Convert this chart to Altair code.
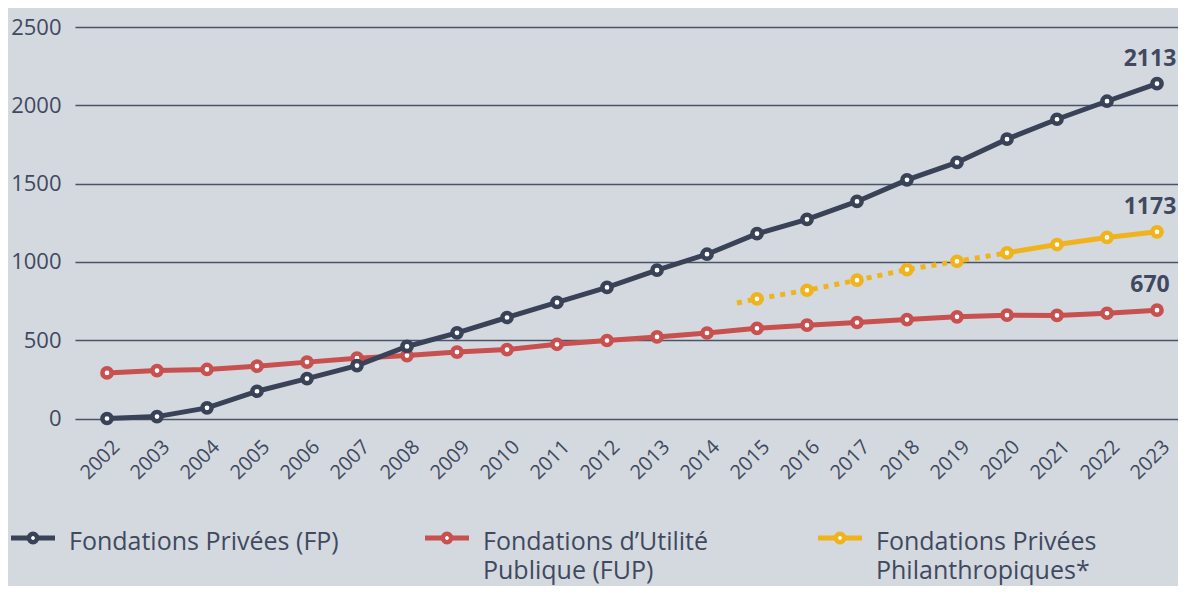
import altair as alt
import pandas as pd

# ---- data ----
years = list(range(2002, 2024))
fp_values = [0, 12, 68, 174, 255, 338, 460, 547, 645, 741, 837, 947, 1049,
             1180, 1271, 1386, 1524, 1635, 1784, 1911, 2026, 2138]
fup_values = [291, 306, 313, 334, 360, 385, 402, 424, 440, 474, 498, 521, 546,
              576, 596, 613, 632, 649, 660, 658, 672, 692]
fpp_years = list(range(2015, 2024))
fpp_values = [764, 819, 883, 951, 1004, 1058, 1111, 1156, 1192]
fpp_est_years = [2014.6, 2015, 2016, 2017, 2018, 2019, 2020]
fpp_est_values = [738, 764, 819, 883, 951, 1004, 1058]
fpp_solid_years = [2020, 2021, 2022, 2023]
fpp_solid_values = [1058, 1111, 1156, 1192]

series_names = ["Fondations Privées (FP)", "Fondations d’Utilité\nPublique (FUP)",
                "Fondations Privées\nPhilanthropiques*"]
end_labels = ["2113", "670", "1173"]
end_values = [fp_values[-1], fup_values[-1], fpp_values[-1]]

DARK = "#3a4258"
RED = "#c8504f"
YELLOW = "#f0b31b"
TEXT = "#414960"
BG = "#d3d9df"
GRID = "#4b5367"
FONT = "Open Sans"

fp_df = pd.DataFrame({"year": years, "value": fp_values})
fup_df = pd.DataFrame({"year": years, "value": fup_values})
fpp_df = pd.DataFrame({"year": fpp_years, "value": fpp_values})
fpp_est_df = pd.DataFrame({"year": fpp_est_years, "value": fpp_est_values})
fpp_solid_df = pd.DataFrame({"year": fpp_solid_years, "value": fpp_solid_values})
end_df = pd.DataFrame({"year": [2023] * 3, "value": end_values, "label": end_labels})

x_scale = alt.Scale(domain=[2001.36, 2023.42], nice=False, zero=False)
y_scale = alt.Scale(domain=[0, 2500], nice=False)

x_enc = alt.X("year:Q", scale=x_scale, axis=alt.Axis(
    values=years, format="d", labelAngle=-45, grid=False, domain=False, ticks=False,
    labelFont=FONT, labelFontSize=20, labelColor=TEXT, labelAlign="right",
    labelBaseline="middle", labelPadding=25, labelOffset=9, title=None,
    labelOverlap=False, labelFlush=False))
y_enc = alt.Y("value:Q", scale=y_scale, axis=alt.Axis(
    values=[0, 500, 1000, 1500, 2000, 2500], format="d", grid=True, gridColor=GRID,
    gridWidth=1.5, gridOpacity=1, domain=False, ticks=False, labelFont=FONT,
    labelFontSize=22, labelColor=TEXT, labelPadding=14, title=None))


def line(df, color, dash=None):
    kwargs = dict(color=color, strokeWidth=5, strokeCap="butt")
    if dash:
        kwargs["strokeDash"] = dash
    return alt.Chart(df).mark_line(**kwargs).encode(x=x_enc, y=y_enc)


def pts(df, color):
    return alt.Chart(df).mark_point(shape="circle", filled=True, fill="white", stroke=color,
                                    strokeWidth=4.5, size=85, opacity=1).encode(
        x=alt.X("year:Q", scale=x_scale), y=alt.Y("value:Q", scale=y_scale))


layers = [
    line(fpp_est_df, YELLOW, dash=[5, 6]),
    line(fpp_solid_df, YELLOW),
    pts(fpp_df, YELLOW),
    line(fup_df, RED),
    pts(fup_df, RED),
    line(fp_df, DARK),
    pts(fp_df, DARK),
    alt.Chart(end_df).mark_text(font=FONT, fontSize=23, fontWeight="bold", color=TEXT,
                                dy=-25, dx=-7, align="center", baseline="middle").encode(
        x=alt.X("year:Q", scale=x_scale), y=alt.Y("value:Q", scale=y_scale),
        text="label:N"),
]

# ---- manual legend below the x axis ----
legend_colors = [DARK, RED, YELLOW]
legend_x = [-64, 350, 743]  # left end of each legend symbol, relative to plot origin
LEG_Y = 511
for name, col, x0 in zip(series_names, legend_colors, legend_x):
    one = pd.DataFrame({"name": [name]})
    layers.append(alt.Chart(one).mark_rule(color=col, strokeWidth=5).encode(
        x=alt.value(x0), x2=alt.value(x0 + 44), y=alt.value(LEG_Y)))
    layers.append(alt.Chart(one).mark_point(shape="circle", filled=True, fill="white",
                                           stroke=col, strokeWidth=4.5, size=70,
                                           opacity=1).encode(
        x=alt.value(x0 + 22), y=alt.value(LEG_Y)))
    layers.append(alt.Chart(one).mark_text(font=FONT, fontSize=25, color=TEXT, align="left",
                                          baseline="alphabetic", lineBreak="\n",
                                          lineHeight=29).encode(
        x=alt.value(x0 + 58), y=alt.value(LEG_Y + 12), text="name:N"))

chart = alt.layer(*layers).properties(
    width=1103, height=391.5,
    autosize=alt.AutoSizeParams(type="none"),
    padding={"left": 67, "top": 19, "right": 0, "bottom": 167},
    background=BG,
).configure_view(stroke=None)

chart.save("out.html", embed_options={"renderer": "svg", "actions": False})
